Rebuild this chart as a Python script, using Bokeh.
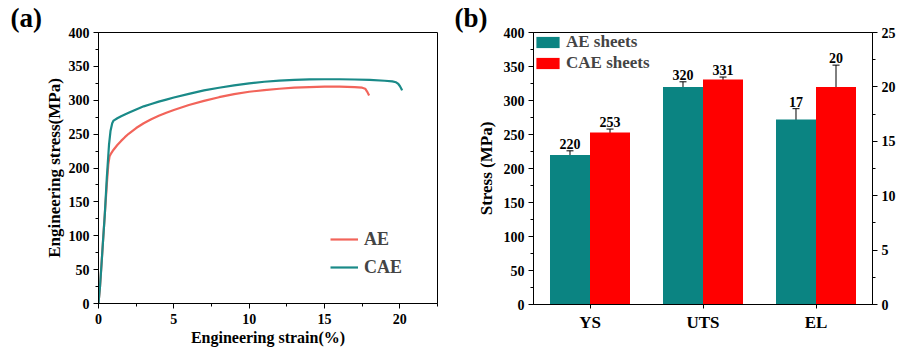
from bokeh.plotting import figure
from bokeh.models import (ColumnDataSource, Range1d, LinearAxis, SingleIntervalTicker,
                          Legend, LegendItem, Whisker, FactorRange, TeeHead, Title)
from bokeh.transform import dodge
from bokeh.layouts import row
from bokeh.embed import file_html
from bokeh.resources import INLINE
from bokeh.core.properties import value

# ---------------- data ----------------
ae_strain = [0, 0.1, 0.2, 0.3, 0.42, 0.55, 0.65, 0.73, 0.85, 1.0, 1.25, 1.5, 1.75, 2.0, 2.5,
             3.0, 3.5, 4.0, 4.5, 5.0, 6.0, 7.0, 8.0, 9.0, 10.0, 11.0, 12.0, 13.0, 14.0, 15.0,
             16.0, 17.0, 17.5, 17.7, 17.85, 17.96]
ae_stress = [0, 25, 58, 92, 132, 175, 205, 217, 222, 227, 234, 240, 245.5, 250.5, 259,
             266, 272, 277, 281.5, 285.5, 293, 299, 304.5, 309, 312.5, 315, 317, 318.5, 319.5, 320,
             320, 319.5, 318.5, 317, 312, 307]

cae_strain = [0, 0.1, 0.2, 0.3, 0.42, 0.55, 0.7, 0.8, 0.91, 1.0, 1.25, 1.5, 2.0, 2.5, 3.0, 3.5,
              4.0, 4.5, 5.0, 6.0, 7.0, 8.0, 9.0, 10.0, 11.0, 12.0, 13.0, 14.0, 15.0, 16.0, 17.0,
              18.0, 19.0, 19.5, 19.75, 19.9, 20.0, 20.1, 20.15]
cae_stress = [0, 25, 58, 92, 132, 185, 235, 255, 266, 270, 273.5, 276.5, 281.5, 286.5, 291, 294.5,
              298, 301, 304, 309.5, 314.5, 318.5, 322, 325, 327.3, 329, 330.2, 330.8, 331, 331, 330.6,
              330, 328.8, 327.8, 326.5, 324, 321, 317, 314.6]

categories = ["YS", "UTS", "EL"]
ae_values = [220, 320, 17]
cae_values = [253, 331, 20]
ae_err = [6, 7.5, 1]
cae_err = [5, 3.5, 2]
series_names = ["AE sheets", "CAE sheets"]

FONT = "Liberation Serif"
TEAL_LINE = "#1A8A88"
RED_LINE = "#F2645A"
TEAL_BAR = "#0B8482"
RED_BAR = "#FF0000"


def style_axis(ax, tick_size="14px"):
    ax.major_label_text_font = FONT
    ax.major_label_text_font_style = "bold"
    ax.major_label_text_font_size = tick_size
    ax.major_label_text_color = "black"
    ax.axis_label_text_font = FONT
    ax.axis_label_text_font_style = "bold"
    ax.axis_label_text_font_size = "17px"
    ax.axis_label_text_color = "black"
    ax.axis_line_color = "black"
    ax.major_tick_line_color = "black"
    ax.minor_tick_line_color = "black"
    ax.major_tick_in = 0
    ax.major_tick_out = 5
    ax.minor_tick_in = 0
    ax.minor_tick_out = 3
    ax.major_label_standoff = 4


def panel_title(text):
    return Title(text=text, align="left", offset=-88, standoff=0,
                 text_font=FONT, text_font_style="bold", text_font_size="27px",
                 text_color="black")


# ---------------- panel (a) ----------------
pa = figure(frame_width=339, frame_height=271, output_backend="svg", toolbar_location=None,
            x_range=Range1d(0, 22.5), y_range=Range1d(0, 400),
            min_border_left=98, min_border_right=13, min_border_top=32, min_border_bottom=40)
pa.add_layout(panel_title("(a)"), "above")
pa.grid.visible = False
pa.outline_line_color = "black"
pa.xaxis.ticker = SingleIntervalTicker(interval=5, num_minor_ticks=2)
pa.yaxis.ticker = SingleIntervalTicker(interval=50, num_minor_ticks=2)
pa.xaxis.axis_label = "Engineering strain(%)"
pa.yaxis.axis_label = "Engineering stress(MPa)"
for ax in pa.axis:
    style_axis(ax)
pa.xaxis.axis_label_text_font_size = "16px"
pa.xaxis.axis_label_standoff = 2
pa.xaxis.major_label_standoff = 5
pa.yaxis.axis_label_standoff = 2

r_ae = pa.line(ae_strain, ae_stress, line_color=RED_LINE, line_width=2.2)
r_cae = pa.line(cae_strain, cae_stress, line_color=TEAL_LINE, line_width=2.2)
leg_a = Legend(items=[LegendItem(label="AE", renderers=[r_ae]),
                      LegendItem(label="CAE", renderers=[r_cae])],
               location=(232, 24), margin=0, padding=0, spacing=4,
               glyph_width=28, glyph_height=20, label_height=24, label_standoff=6,
               label_text_font=FONT, label_text_font_style="bold",
               label_text_font_size="18px", border_line_color=None,
               background_fill_alpha=0)
pa.add_layout(leg_a)

# ---------------- panel (b) ----------------
pb = figure(frame_width=339, frame_height=272, output_backend="svg", toolbar_location=None,
            x_range=FactorRange(*categories, range_padding=0), y_range=Range1d(0, 400),
            min_border_left=83, min_border_right=30, min_border_top=32, min_border_bottom=43)
t_b = panel_title("(b)")
t_b.offset = -79
pb.add_layout(t_b, "above")
pb.extra_y_ranges = {"el": Range1d(0, 25)}
pb.grid.visible = False
pb.outline_line_color = "black"
pb.yaxis.ticker = SingleIntervalTicker(interval=50, num_minor_ticks=2)
pb.yaxis.axis_label = "Stress (MPa)"
right_ax = LinearAxis(y_range_name="el", ticker=SingleIntervalTicker(interval=5, num_minor_ticks=2))
pb.add_layout(right_ax, "right")
for ax in pb.axis:
    style_axis(ax)
pb.xaxis.major_label_text_font_size = "17px"
pb.xaxis.major_tick_out = 4
pb.yaxis[0].axis_label_standoff = 5

n_stress = 2  # YS and UTS on stress axis, EL on right axis
bw = 0.354
off = 0.177


def make_src(cats, vals, errs):
    return ColumnDataSource(dict(cat=cats, top=vals, up=[v + e for v, e in zip(vals, errs)],
                                 lo=[v - e for v, e in zip(vals, errs)],
                                 txt=[str(int(v)) for v in vals]))


src_ae_s = make_src(categories[:n_stress], ae_values[:n_stress], ae_err[:n_stress])
src_cae_s = make_src(categories[:n_stress], cae_values[:n_stress], cae_err[:n_stress])
src_ae_e = make_src(categories[n_stress:], ae_values[n_stress:], ae_err[n_stress:])
src_cae_e = make_src(categories[n_stress:], cae_values[n_stress:], cae_err[n_stress:])

renderers = {}
for src, dx, col, key, rng in [(src_ae_s, -off, TEAL_BAR, "ae", "default"),
                               (src_cae_s, off, RED_BAR, "cae", "default"),
                               (src_ae_e, -off, TEAL_BAR, "ae_e", "el"),
                               (src_cae_e, off, RED_BAR, "cae_e", "el")]:
    xd = dodge("cat", dx, range=pb.x_range)
    renderers[key] = pb.vbar(x=xd, top="top", width=bw, source=src, fill_color=col,
                             line_color=None, y_range_name=rng)
    w = Whisker(base=xd, upper="up", lower="lo", source=src, y_range_name=rng,
                line_color="black", line_width=1,
                upper_head=TeeHead(size=7, line_color="black", line_width=1),
                lower_head=TeeHead(size=7, line_color="black", line_width=1))
    pb.add_layout(w)
    pb.text(x=xd, y="up", text="txt", source=src, y_range_name=rng,
            text_font=value(FONT), text_font_style="bold", text_font_size="14px",
            text_align="center", text_baseline="bottom", y_offset=-2, text_color="black")

leg_b = Legend(items=[LegendItem(label=series_names[0], renderers=[renderers["ae"]]),
                      LegendItem(label=series_names[1], renderers=[renderers["cae"]])],
               location="top_left", margin=0, padding=5, spacing=1,
               glyph_width=29, glyph_height=14, label_height=20, label_standoff=4,
               label_text_font=FONT, label_text_font_style="bold",
               label_text_font_size="17px", border_line_color=None,
               background_fill_alpha=0)
pb.add_layout(leg_b)

layout = row(pa, pb, spacing=0)
open("out.html", "w").write(file_html(layout, INLINE))
